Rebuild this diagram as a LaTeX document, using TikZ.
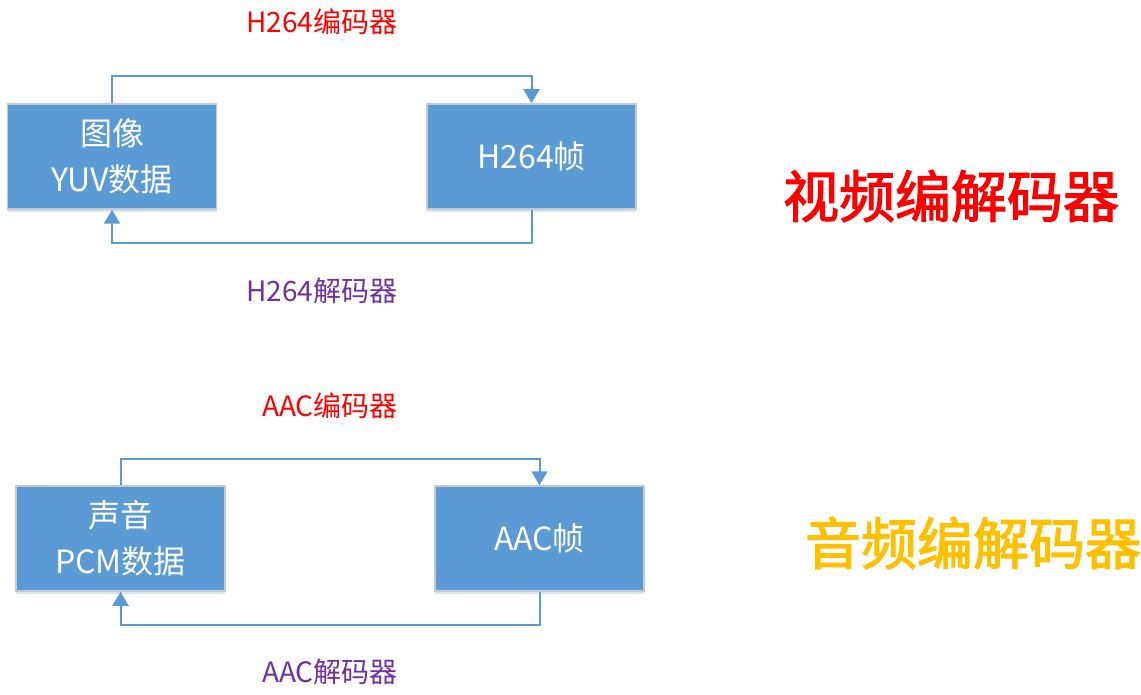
\documentclass[tikz,border=0pt]{standalone}
\usepackage{fontspec}
\setmainfont{Noto Sans CJK SC}
\newfontfamily\headfont[FakeBold=2.2]{Noto Sans CJK SC}
\usetikzlibrary{arrows.meta,shadows}
\definecolor{boxblue}{HTML}{5B9BD5}
\definecolor{edgegray}{HTML}{C3CAD2}
\definecolor{decpurple}{HTML}{7030A0}
\definecolor{encred}{HTML}{FF0000}
\definecolor{audioyellow}{HTML}{FFC000}
\begin{document}
\begin{tikzpicture}[x=1pt,y=-1pt,
  databox/.style={draw=edgegray, line width=1.5pt, fill=boxblue,
    minimum width=209pt, minimum height=105pt, inner sep=0pt,
    text=white, align=center, font=\fontsize{32}{46}\selectfont,
    drop shadow={shadow xshift=0pt, shadow yshift=-3pt, opacity=0.18, fill=boxblue!70!black}},
  link/.style={draw=boxblue, line width=2pt, -{Triangle[width=16pt,length=14pt]}},
  enclabel/.style={text=encred, font=\fontsize{28}{32}\selectfont},
  declabel/.style={text=decpurple, font=\fontsize{28}{32}\selectfont},
  heading/.style={font=\fontsize{56}{62}\headfont}]
\useasboundingbox (0,0) rectangle (1141,695);

% video codec
\node[databox] (yuv) at (112,156.5) {图像\\YUV数据};
\node[databox] (h264) at (531.5,156.5) {H264帧};
\draw[link] (yuv.north) -- ++(0,-27) -| (h264.north);
\draw[link] (h264.south) -- ++(0,33) -| (yuv.south);
\node[enclabel] (venc) at (322,22) {H264编码器};
\node[declabel] (vdec) at (322,291) {H264解码器};
\node[heading, text=encred] (vtitle) at (951,196) {视频编解码器};

% audio codec
\node[databox] (pcm) at (120.5,538.5) {声音\\PCM数据};
\node[databox] (aac) at (539.5,538.5) {AAC帧};
\draw[link] (pcm.north) -- ++(0,-26) -| (aac.north);
\draw[link] (aac.south) -- ++(0,33) -| (pcm.south);
\node[enclabel] (aenc) at (330,406) {AAC编码器};
\node[declabel] (adec) at (330,672) {AAC解码器};
\node[heading, text=audioyellow] (atitle) at (973,543) {音频编解码器};
\end{tikzpicture}
\end{document}
